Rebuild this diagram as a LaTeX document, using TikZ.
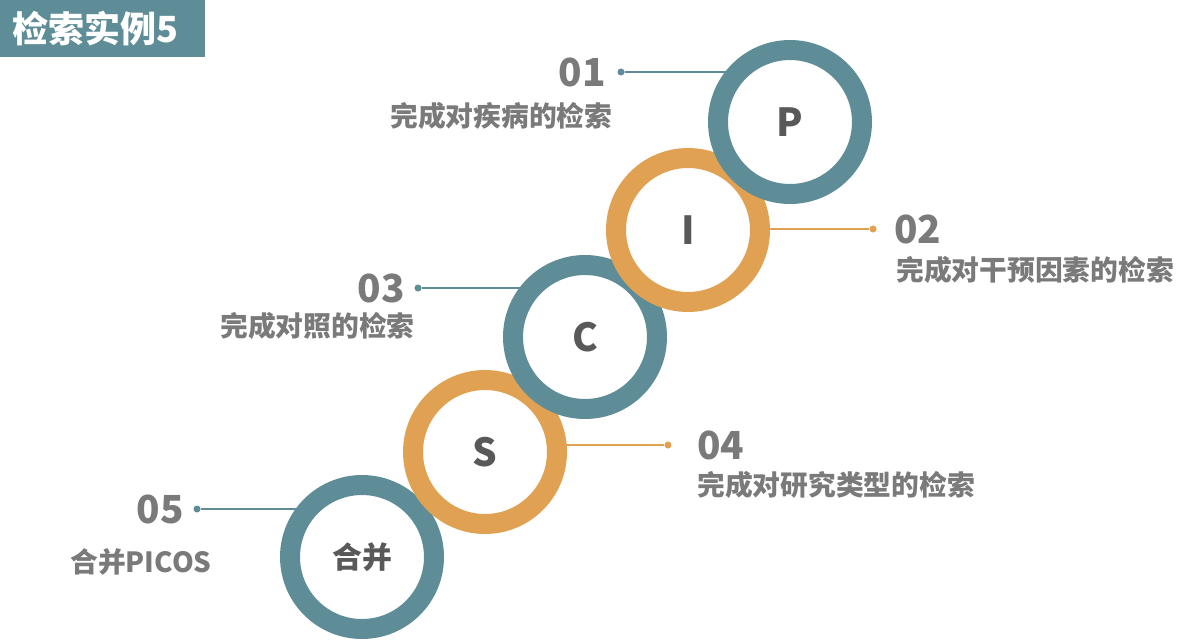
\documentclass[tikz,border=0pt]{standalone}
\usepackage{fontspec}
\setmainfont{Noto Sans CJK SC}
\definecolor{teal1}{HTML}{5E8D97}
\definecolor{orng}{HTML}{E0A252}
\definecolor{txt}{HTML}{7A7A7A}
\definecolor{dtxt}{HTML}{595959}
\begin{document}
\begin{tikzpicture}[x=0.02cm,y=-0.02cm,
  ring/.style={circle,draw=#1,line width=0.4cm,fill=white,minimum size=2.88cm,inner sep=0pt,text=dtxt,font=\bfseries\fontsize{22}{24}\selectfont},
  num/.style={text=txt,font=\bfseries\fontsize{22}{24}\selectfont,inner sep=0pt},
  lab/.style={text=txt,font=\bfseries\fontsize{15.8}{18}\selectfont,inner sep=0pt},
  dot/.style={circle,fill=#1,inner sep=0pt,minimum size=0.14cm},
  conn/.style={draw=#1,line width=0.7pt}]
\useasboundingbox (0,0) rectangle (1196,640);
\fill[white] (0,0) rectangle (1196,640);
\fill[teal1] (0,0) rectangle (205,57);
\node[text=white,anchor=west,inner sep=0pt,font=\bfseries\fontsize{20.5}{22}\selectfont] (title) at (12,29) {检索实例5};
% dots and lines
\node[dot=teal1] (d1) at (621,72) {};
\coordinate (e1) at (730,72);
\node[dot=orng] (d2) at (873,229) {};
\coordinate (e2) at (760,229);
\node[dot=teal1] (d3) at (418,288) {};
\coordinate (e3) at (530,288);
\node[dot=orng] (d4) at (668,445) {};
\coordinate (e4) at (555,445);
\node[dot=teal1] (d5) at (197,509) {};
\coordinate (e5) at (310,509);
\draw[conn=teal1] (d1) -- (e1);
\draw[conn=orng] (d2) -- (e2);
\draw[conn=teal1] (d3) -- (e3);
\draw[conn=orng] (d4) -- (e4);
\draw[conn=teal1] (d5) -- (e5);
% rings
\node[ring=teal1,font=\bfseries\fontsize{17}{19}\selectfont] (r5) at (362,557) {合并};
\node[ring=orng] (r4) at (485,452) {S};
\node[ring=teal1] (r3) at (585,337) {C};
\node[ring=orng] (r2) at (688,230) {I};
\node[ring=teal1] (r1) at (790,122) {P};
% texts
\node[num,anchor=east] (n1) at (606,72) {01};
\node[lab,anchor=west] (l1) at (390,116) {完成对疾病的检索};
\node[num,anchor=west] (n2) at (894,229) {02};
\node[lab,anchor=west] (l2) at (896,270) {完成对干预因素的检索};
\node[num,anchor=east] (n3) at (405,288) {03};
\node[lab,anchor=west] (l3) at (220,326) {完成对照的检索};
\node[num,anchor=west] (n4) at (697,445) {04};
\node[lab,anchor=west] (l4) at (697,485) {完成对研究类型的检索};
\node[num,anchor=east] (n5) at (184,509) {05};
\node[lab,anchor=west] (l5) at (70,562) {合并PICOS};
\end{tikzpicture}
\end{document}
